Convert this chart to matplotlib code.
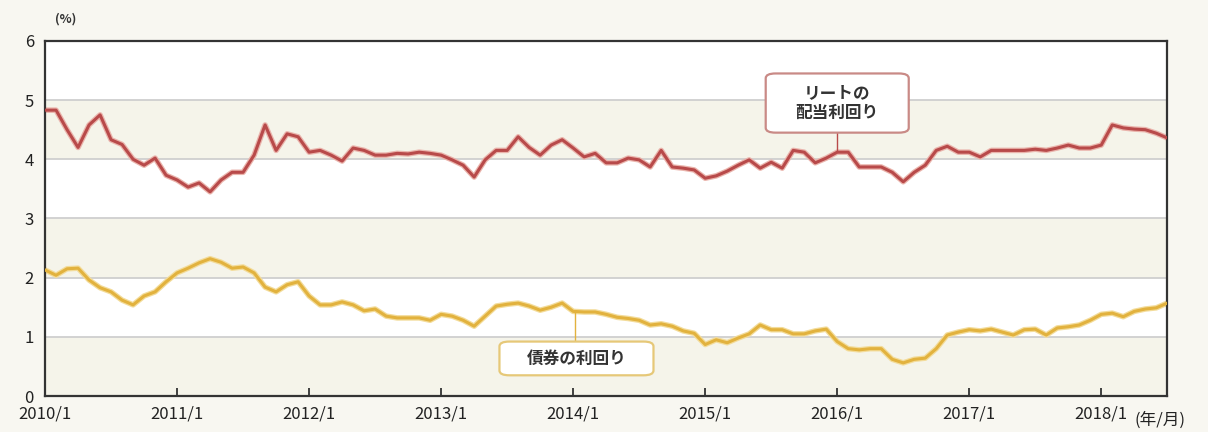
import numpy as np
import matplotlib.pyplot as plt
from matplotlib.patches import FancyBboxPatch

plt.rcParams['font.family'] = ['Noto Sans CJK JP', 'DejaVu Sans']

# monthly data, 2010/1 .. 2018/7
reit = [4.83, 4.83, 4.5, 4.2, 4.58, 4.75, 4.33, 4.25, 4.0, 3.9, 4.02, 3.73,
        3.65, 3.53, 3.6, 3.45, 3.65, 3.78, 3.78, 4.07, 4.58, 4.15, 4.43, 4.38,
        4.12, 4.15, 4.07, 3.97, 4.19, 4.15, 4.07, 4.07, 4.1, 4.09, 4.12, 4.1,
        4.07, 3.99, 3.9, 3.7, 3.99, 4.15, 4.15, 4.38, 4.2, 4.07, 4.24, 4.33,
        4.19, 4.04, 4.1, 3.94, 3.94, 4.02, 3.99, 3.87, 4.15, 3.87, 3.85, 3.82,
        3.68, 3.72, 3.8, 3.9, 3.99, 3.85, 3.95, 3.85, 4.15, 4.12, 3.94, 4.02,
        4.12, 4.12, 3.87, 3.87, 3.87, 3.78, 3.62, 3.78, 3.9, 4.15, 4.22, 4.12,
        4.12, 4.04, 4.15, 4.15, 4.15, 4.15, 4.17, 4.15, 4.19, 4.24, 4.19, 4.19,
        4.24, 4.58, 4.53, 4.51, 4.5, 4.44, 4.36]
bond = [2.13, 2.04, 2.15, 2.16, 1.96, 1.83, 1.76, 1.62, 1.54, 1.69, 1.76, 1.93,
        2.08, 2.16, 2.25, 2.32, 2.26, 2.16, 2.18, 2.08, 1.84, 1.76, 1.88, 1.93,
        1.69, 1.54, 1.54, 1.59, 1.54, 1.44, 1.47, 1.35, 1.32, 1.32, 1.32, 1.28,
        1.38, 1.35, 1.28, 1.18, 1.35, 1.52, 1.55, 1.57, 1.52, 1.45, 1.5, 1.57,
        1.43, 1.42, 1.42, 1.38, 1.33, 1.31, 1.28, 1.2, 1.22, 1.18, 1.1, 1.06,
        0.87, 0.95, 0.9, 0.98, 1.05, 1.2, 1.12, 1.12, 1.05, 1.05, 1.1, 1.13,
        0.92, 0.8, 0.78, 0.8, 0.8, 0.62, 0.56, 0.62, 0.64, 0.8, 1.03, 1.08,
        1.12, 1.1, 1.13, 1.08, 1.03, 1.12, 1.13, 1.03, 1.15, 1.17, 1.2, 1.28,
        1.38, 1.4, 1.34, 1.43, 1.47, 1.49, 1.57]
months = np.arange(len(reit))
years = list(range(2010, 2019))
xlabels = [f"{y}/1" for y in years]

bg = '#f8f7f1'
band = '#f5f4ea'
red = '#b84a4a'
gold = '#e2b23e'

fig = plt.figure(figsize=(12.08, 4.32), dpi=100, facecolor=bg)
ax = fig.add_axes([0.0373, 0.0833, 0.929, 0.822])
ax.set_facecolor('white')

# alternating bands
for lo in (0, 2, 4):
    ax.axhspan(lo, lo + 1, color=band, zorder=0, lw=0)
for v in range(1, 6):
    ax.axhline(v, color='#cfcfcf', lw=1.3, zorder=1)

ax.plot(months, reit, color='#eab4ac', lw=4.0, zorder=2)
ax.plot(months, reit, color=red, lw=2.2, zorder=3)
ax.plot(months, bond, color='#f3dc9a', lw=4.0, zorder=2)
ax.plot(months, bond, color=gold, lw=2.2, zorder=3)

ax.set_xlim(0, len(reit) - 1)
ax.set_ylim(0, 6)
ax.set_yticks(range(0, 7))
ax.tick_params(axis='y', length=0, pad=8, labelsize=12, labelcolor='#222222')
ax.set_xticks(np.arange(0, 97, 12))
ax.set_xticklabels(xlabels)
ax.tick_params(axis='x', direction='in', length=6, width=1.3, color='#333333',
               pad=7, labelsize=12, labelcolor='#222222')
for s in ax.spines.values():
    s.set_color('#333333')
    s.set_linewidth(1.6)

fig.text(0.054, 0.955, '(%)', fontsize=9, color='#333333', ha='center', va='center',
         fontweight='bold')
fig.text(0.96, 0.028, '(年/月)', fontsize=12, color='#222222', ha='center', va='center')

# callouts
ax.plot([72, 72], [4.12, 4.45], color=red, lw=1, zorder=4)
box1 = FancyBboxPatch((65.5, 4.45), 13.0, 1.0, boxstyle='round,pad=0,rounding_size=0.9',
                      mutation_aspect=0.09, fc='white', ec='#c98a86', lw=1.6, zorder=5)
ax.add_patch(box1)
ax.text(72, 4.95, 'リートの\n配当利回り', ha='center', va='center', fontsize=12,
        fontweight='bold', color='#333333', linespacing=1.15, zorder=6)

ax.plot([48.2, 48.2], [1.43, 0.9], color=gold, lw=1, zorder=4)
box2 = FancyBboxPatch((41.3, 0.35), 14.0, 0.57, boxstyle='round,pad=0,rounding_size=0.9',
                      mutation_aspect=0.09, fc='white', ec='#e6c878', lw=1.6, zorder=5)
ax.add_patch(box2)
ax.text(48.3, 0.635, '債券の利回り', ha='center', va='center', fontsize=12,
        fontweight='bold', color='#333333', zorder=6)

fig.savefig('out.png', dpi=100, facecolor=bg)
